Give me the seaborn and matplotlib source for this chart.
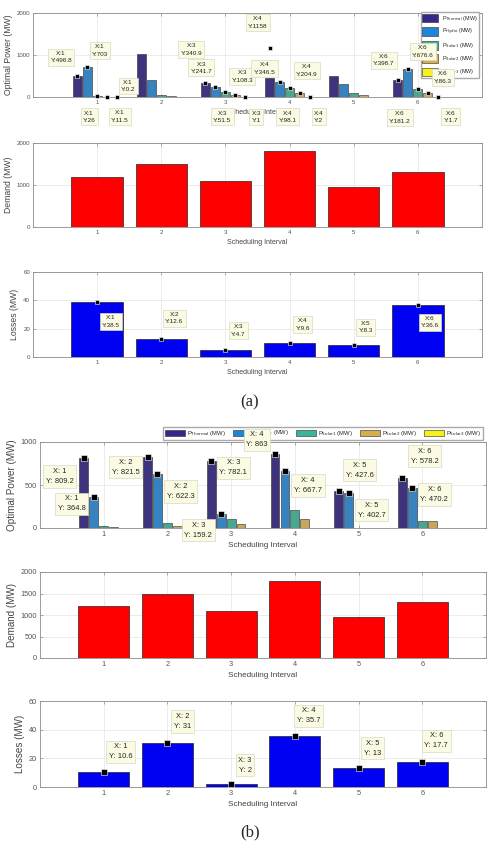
import matplotlib
matplotlib.use("Agg")
import matplotlib.pyplot as plt
from matplotlib.patches import Patch
import numpy as np
import pandas as pd
import seaborn as sns

intervals = [1, 2, 3, 4, 5, 6]
sources = ["Thermal", "Hydro", "Solar1", "Solar2", "Solar3"]

# case (a)
a_thermal = [496.8, 1020, 340.9, 450, 500, 398.7]
a_hydro = [703, 400, 241.7, 346.5, 320, 676.6]
a_solar1 = [26, 50, 108.3, 204.9, 90, 181.2]
a_solar2 = [11.5, 25, 51.5, 98.1, 40, 86.3]
a_solar3 = [0.2, 10, 1, 2, 10, 1.7]
a_demand = [1200, 1500, 1100, 1800, 950, 1300]
a_losses = [38.5, 12.6, 4.7, 9.6, 8.3, 36.6]

# case (b)
b_thermal = [809.2, 821.5, 782.1, 863, 427.6, 578.2]
b_hydro = [364.8, 622.3, 159.2, 667.7, 402.7, 470.2]
b_solar1 = [25, 60, 110, 210, 5, 80]
b_solar2 = [15, 25, 50, 100, 5, 80]
b_solar3 = [3, 3, 3, 3, 3, 3]
b_demand = [1200, 1500, 1100, 1800, 950, 1300]
b_losses = [10.6, 31, 2, 35.7, 13, 17.7]

# data tips: (interval, source index, value)
a_tips = [(1, 0, 496.8), (1, 1, 703), (1, 2, 26), (1, 3, 11.5), (1, 4, 0.2),
          (3, 0, 340.9), (3, 1, 241.7), (3, 2, 108.3), (3, 3, 51.5), (3, 4, 1),
          (4, 0, 1158), (4, 1, 346.5), (4, 2, 204.9), (4, 3, 98.1), (4, 4, 2),
          (6, 0, 398.7), (6, 1, 676.6), (6, 2, 181.2), (6, 3, 86.3), (6, 4, 1.7)]
b_tips = [(1, 0, 809.2), (1, 1, 364.8), (2, 0, 821.5), (2, 1, 622.3),
          (3, 0, 782.1), (3, 1, 159.2), (4, 0, 863), (4, 1, 667.7),
          (5, 0, 427.6), (5, 1, 402.7), (6, 0, 578.2), (6, 1, 470.2)]

# label box offsets in pixels from the tip marker
a_tip_off = [(-16, 19), (13, 17), (-8, -21), (13, -20), (11, 11),
             (-14, 33), (-14, 19), (17, 16), (-13, -22), (11, -20),
             (-12, 26), (-15, 14), (17, 18), (-12, -24), (9, -20),
             (-14, 20), (15, 17), (-18, -28), (15, 16), (13, -20)]
a_loss_off = [(14, -19), (13, 21), (13, 20), (13, 19), (12, 18), (12, -17)]
b_tip_off = [(-24, -18), (-22, -7), (-22, -10), (23, -17), (22, -7), (-23, -16),
             (-18, 14), (23, -15), (21, 21), (23, -17), (22, 22), (22, -7)]
b_loss_off = [(17, 20), (15, 21), (14, 19), (14, 20), (14, 20), (14, 21)]

colors = ["#35288a", "#1f86d6", "#39b59a", "#d7ae4c", "#f6f11c"]
legend_labels = [r"P$_{\rm Thermal}$ (MW)", r"P$_{\rm Hydro}$ (MW)", r"P$_{\rm Solar1}$ (MW)",
                 r"P$_{\rm Solar2}$ (MW)", r"P$_{\rm Solar3}$ (MW)"]

sns.set_style("whitegrid", {"axes.edgecolor": "#8c8c8c", "grid.color": "#e4e4e4",
                            "xtick.bottom": True, "xtick.top": True,
                            "ytick.left": True, "ytick.right": True,
                            "xtick.direction": "in", "ytick.direction": "in",
                            "xtick.color": "#8c8c8c", "ytick.color": "#8c8c8c"})
plt.rcParams["font.family"] = ["Liberation Sans", "DejaVu Sans"]
plt.rcParams["grid.linewidth"] = 0.5
plt.rcParams["axes.linewidth"] = 0.6

W, H = 487, 844
fig = plt.figure(figsize=(W / 100, H / 100), dpi=100)


def rect(l, t, r, b):
    return [l / W, 1 - b / H, (r - l) / W, (b - t) / H]


def style_axis(ax, ymax, yticks, ylabel, fs, ylfs, xlabel=True):
    ax.set_xlim(0, 7)
    ax.set_ylim(0, ymax)
    ax.set_xticks(intervals)
    ax.set_xticklabels([str(i) for i in intervals])
    ax.set_yticks(yticks)
    ax.tick_params(labelsize=fs, labelcolor="#555555", length=2, width=0.5, pad=2)
    ax.set_ylabel(ylabel, fontsize=ylfs, color="#444444", labelpad=3)
    if xlabel:
        ax.set_xlabel("Scheduling Interval", fontsize=fs + 0.6, color="#444444", labelpad=3)
    else:
        ax.set_xlabel("")
    ax.set_axisbelow(True)


def datatip(ax, x, y, text, off, fs, ms):
    ax.plot([x], [y], marker="s", color="black", ms=ms, mec="white", mew=0.4,
            zorder=5, clip_on=False)
    ax.annotate(text, xy=(x, y), xytext=off, textcoords="offset pixels",
                ha="center", va="center", fontsize=fs, linespacing=1.6,
                color="#222222", zorder=6, annotation_clip=False,
                bbox=dict(boxstyle="square,pad=0.35", fc="#fbfbe4", ec="#d9d9c4", lw=0.5))


def power_panel(ax, series, tips, offsets, tipfs, sep, ms):
    frame = pd.DataFrame(dict(zip(sources, series)), index=intervals)
    frame.index.name = "interval"
    long = frame.reset_index().melt(id_vars="interval", var_name="source", value_name="power")
    sns.barplot(data=long, x="interval", y="power", hue="source", hue_order=sources,
                palette=colors, native_scale=True, width=0.78, gap=0.12, errorbar=None,
                edgecolor="#2a2a2a", linewidth=0.4, legend=False, ax=ax)
    bars = sorted(ax.patches, key=lambda p: p.get_x() + p.get_width() / 2)
    for (iv, k, val), off in zip(tips, offsets):
        p = bars[(iv - 1) * 5 + k]
        label = "X:" + sep + str(iv) + "\nY:" + sep + f"{val:g}"
        datatip(ax, p.get_x() + p.get_width() / 2, val, label, off, tipfs, ms)


def single_panel(ax, values, color, offsets, tipfs, sep, ms):
    sns.barplot(x=intervals, y=values, native_scale=True, color=color, width=0.8,
                saturation=1, edgecolor="#222222", linewidth=0.5, errorbar=None, ax=ax)
    if offsets is not None:
        for iv, val, off in zip(intervals, values, offsets):
            label = "X:" + sep + str(iv) + "\nY:" + sep + f"{val:g}"
            datatip(ax, iv, val, label, off, tipfs, ms)


# ---------- case (a) ----------
ax = fig.add_axes(rect(33, 13, 482, 97))
power_panel(ax, [a_thermal, a_hydro, a_solar1, a_solar2, a_solar3], a_tips, a_tip_off,
            4.6, "", 3.5)
style_axis(ax, 2000, [0, 1000, 2000], "Optimal Power (MW)", 4.4, 6.2)
handles = [Patch(fc=c, ec="#2a2a2a", lw=0.4) for c in colors]
ax.legend(handles, legend_labels, loc="upper right", bbox_to_anchor=(1.0, 1.04),
          fontsize=3.9, handlelength=2.8, handleheight=2.0, labelspacing=0.75,
          borderpad=0.3, frameon=True, fancybox=False, edgecolor="#aaaaaa", framealpha=1)

ax = fig.add_axes(rect(33, 143, 482, 227))
single_panel(ax, a_demand, "#ff0000", None, 4.6, "", 3.5)
style_axis(ax, 2000, [0, 1000, 2000], "Demand (MW)", 4.4, 6.2)

ax = fig.add_axes(rect(33, 272, 482, 357))
single_panel(ax, a_losses, "#0000f2", a_loss_off, 4.6, "", 3.5)
style_axis(ax, 60, [0, 20, 40, 60], "Losses (MW)", 4.4, 6.2)

fig.text(250 / W, 1 - 402 / H, "(a)", ha="center", va="center", fontsize=12,
         family="Liberation Serif")

# ---------- case (b) ----------
ax = fig.add_axes(rect(40, 442, 486, 528))
power_panel(ax, [b_thermal, b_hydro, b_solar1, b_solar2, b_solar3], b_tips, b_tip_off,
            5.4, " ", 4.5)
style_axis(ax, 1000, [0, 500, 1000], "Optimal Power (MW)", 5.3, 7.1)
ax.legend(handles, legend_labels, loc="lower right", bbox_to_anchor=(1.0, 0.985), ncol=5,
          fontsize=4.2, handlelength=3.4, handleheight=1.3, columnspacing=1.2,
          handletextpad=0.4, borderpad=0.3, frameon=True, fancybox=False,
          edgecolor="#aaaaaa", framealpha=1)

ax = fig.add_axes(rect(40, 572, 486, 658))
single_panel(ax, b_demand, "#ff0000", None, 5.4, " ", 4.5)
style_axis(ax, 2000, [0, 500, 1000, 1500, 2000], "Demand (MW)", 5.3, 7.1)

ax = fig.add_axes(rect(40, 701, 486, 787))
single_panel(ax, b_losses, "#0000f2", b_loss_off, 5.4, " ", 4.5)
style_axis(ax, 60, [0, 20, 40, 60], "Losses (MW)", 5.3, 7.1)

fig.text(250 / W, 1 - 832 / H, "(b)", ha="center", va="center", fontsize=12,
         family="Liberation Serif")

fig.savefig("out.png", dpi=100)
